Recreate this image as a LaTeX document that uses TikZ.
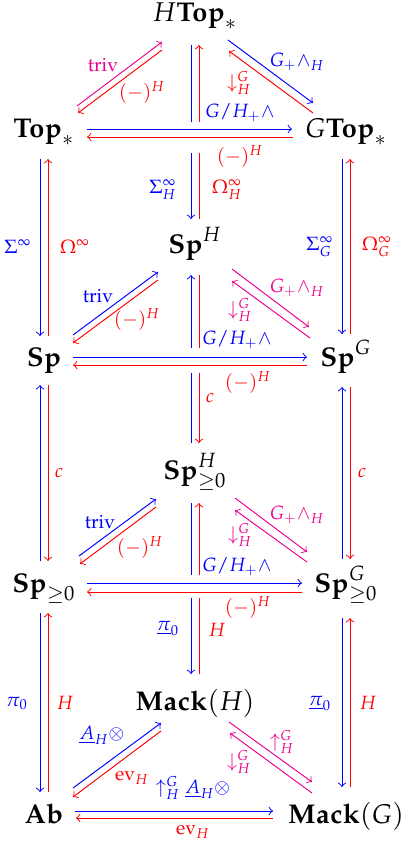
\documentclass[tikz,border=0pt]{standalone}
\usepackage{mathpazo}
\definecolor{pk}{RGB}{236,0,140}
\tikzset{
  obj/.style={anchor=base, inner sep=0pt, font=\fontsize{11.3}{13}\selectfont},
  lab/.style={inner sep=0pt, font=\fontsize{8}{9.5}\selectfont},
  ar/.style={->},
}
\begin{document}
\begin{tikzpicture}[x=0.41667pt,y=-0.41667pt]
\useasboundingbox (0,0) rectangle (409,844);
% objects
\node[obj] (HT) at (195,21) {$H\mathbf{Top}_*$};
\node[obj] (T) at (44,137) {$\mathbf{Top}_*$};
\node[obj] (GT) at (346,137) {$G\mathbf{Top}_*$};
\node[obj] (SH) at (195,253) {$\mathbf{Sp}^H$};
\node[obj] (S) at (44,366) {$\mathbf{Sp}$};
\node[obj] (SG) at (346,366) {$\mathbf{Sp}^G$};
\node[obj] (SHz) at (195,479) {$\mathbf{Sp}^H_{\geq 0}$};
\node[obj] (Sz) at (44,592) {$\mathbf{Sp}_{\geq 0}$};
\node[obj] (SGz) at (346,592) {$\mathbf{Sp}^G_{\geq 0}$};
\node[obj] (MH) at (195,710) {$\mathbf{Mack}(H)$};
\node[obj] (Ab) at (44,823) {$\mathbf{Ab}$};
\node[obj] (MG) at (346,823) {$\mathbf{Mack}(G)$};

% ---- top section
\draw[ar,pk] ([shift={(33,-31)}]T.base) -- ([shift={(-33,21)}]HT.base);
\draw[ar,red] ([shift={(-33,29)}]HT.base) -- ([shift={(34,-24)}]T.base);
\draw[ar,blue] ([shift={(33,19)}]HT.base) -- ([shift={(-33,-34)}]GT.base);
\draw[ar,red] ([shift={(-33,-24)}]GT.base) -- ([shift={(34,30)}]HT.base);
\draw[ar,blue] ([shift={(43,-8)}]T.base) -- ([shift={(-54,-8)}]GT.base);
\draw[ar,red] ([shift={(-53,0)}]GT.base) -- ([shift={(43,0)}]T.base);
% center vertical HT--SH
\draw[blue] ([shift={(-4,24)}]HT.base) -- ([shift={(-4,101)}]HT.base);
\draw[ar,blue] ([shift={(-4,-100)}]SH.base) -- ([shift={(-4,-34)}]SH.base);
\draw[red] ([shift={(4,-34)}]SH.base) -- ([shift={(4,-100)}]SH.base);
\draw[ar,red] ([shift={(4,101)}]HT.base) -- ([shift={(4,24)}]HT.base);
% left / right verticals
\draw[ar,blue] ([shift={(-4,22)}]T.base) -- ([shift={(-4,-30)}]S.base);
\draw[ar,red] ([shift={(4,-30)}]S.base) -- ([shift={(4,22)}]T.base);
\draw[ar,blue] ([shift={(-4,22)}]GT.base) -- ([shift={(-4,-32)}]SG.base);
\draw[ar,red] ([shift={(4,-32)}]SG.base) -- ([shift={(4,22)}]GT.base);

\node[lab,pk] (l1) at (103,65) {$\mathrm{triv}$};
\node[lab,red] (l2) at (142,93) {$(-)^H$};
\node[lab,blue] (l3) at (297,62) {$G_+\wedge_H$};
\node[lab,red] (l4) at (239,83) {$\downarrow^G_H$};
\node[lab,blue] (l5) at (240,113) {$G/H_+\wedge$};
\node[lab,red] (l6) at (240,157) {$(-)^H$};
\node[lab,blue] (l7) at (163,190) {$\Sigma^\infty_H$};
\node[lab,red] (l8) at (227,190) {$\Omega^\infty_H$};
\node[lab,blue] (l9) at (18,247) {$\Sigma^\infty$};
\node[lab,red] (l10) at (75,247) {$\Omega^\infty$};
\node[lab,blue] (l11) at (320,247) {$\Sigma^\infty_G$};
\node[lab,red] (l12) at (377,247) {$\Omega^\infty_G$};

% ---- Sp section
\draw[ar,blue] ([shift={(29,-31)}]S.base) -- ([shift={(-37,19)}]SH.base);
\draw[ar,red] ([shift={(-37,27)}]SH.base) -- ([shift={(29,-23)}]S.base);
\draw[ar,pk] ([shift={(37,16)}]SH.base) -- ([shift={(-37,-39)}]SG.base);
\draw[ar,pk] ([shift={(-36,-28)}]SG.base) -- ([shift={(37,28)}]SH.base);
\draw[ar,blue] ([shift={(29,-9)}]S.base) -- ([shift={(-39,-9)}]SG.base);
\draw[ar,red] ([shift={(-39,-1)}]SG.base) -- ([shift={(29,-1)}]S.base);
% center vertical SH--SHz
\draw[blue] ([shift={(-4,-36)}]SHz.base) -- ([shift={(-4,-106)}]SHz.base);
\draw[ar,blue] ([shift={(-4,95)}]SH.base) -- ([shift={(-4,22)}]SH.base);
\draw[red] ([shift={(4,22)}]SH.base) -- ([shift={(4,95)}]SH.base);
\draw[ar,red] ([shift={(4,-106)}]SHz.base) -- ([shift={(4,-36)}]SHz.base);
% left / right verticals
\draw[ar,blue] ([shift={(-4,-31)}]Sz.base) -- ([shift={(-4,19)}]S.base);
\draw[ar,red] ([shift={(4,19)}]S.base) -- ([shift={(4,-31)}]Sz.base);
\draw[ar,blue] ([shift={(-4,-33)}]SGz.base) -- ([shift={(-4,21)}]SG.base);
\draw[ar,red] ([shift={(4,21)}]SG.base) -- ([shift={(4,-33)}]SGz.base);

\node[lab,blue] (m1) at (98,296) {$\mathrm{triv}$};
\node[lab,red] (m2) at (137,320) {$(-)^H$};
\node[lab,pk] (m3) at (297,288) {$G_+\wedge_H$};
\node[lab,pk] (m4) at (240,310) {$\downarrow^G_H$};
\node[lab,blue] (m5) at (237,340) {$G/H_+\wedge$};
\node[lab,red] (m6) at (248,383) {$(-)^H$};
\node[lab,red] (m7) at (210,398) {$c$};
\node[lab,red] (m8) at (59,473) {$c$};
\node[lab,red] (m9) at (362,473) {$c$};

% ---- Sp>=0 section
\draw[ar,blue] ([shift={(35,-36)}]Sz.base) -- ([shift={(-39,20)}]SHz.base);
\draw[ar,red] ([shift={(-39,28)}]SHz.base) -- ([shift={(36,-28)}]Sz.base);
\draw[ar,pk] ([shift={(40,19)}]SHz.base) -- ([shift={(-39,-40)}]SGz.base);
\draw[ar,pk] ([shift={(-39,-30)}]SGz.base) -- ([shift={(40,31)}]SHz.base);
\draw[ar,blue] ([shift={(43,-9)}]Sz.base) -- ([shift={(-44,-9)}]SGz.base);
\draw[ar,red] ([shift={(-44,0)}]SGz.base) -- ([shift={(43,0)}]Sz.base);
% center vertical SHz--MH
\draw[blue] ([shift={(-4,24)}]SHz.base) -- ([shift={(-4,96)}]SHz.base);
\draw[ar,blue] ([shift={(-4,-112)}]MH.base) -- ([shift={(-4,-36)}]MH.base);
\draw[red] ([shift={(4,-36)}]MH.base) -- ([shift={(4,-112)}]MH.base);
\draw[ar,red] ([shift={(4,96)}]SHz.base) -- ([shift={(4,24)}]SHz.base);
% left / right verticals
\draw[ar,blue] ([shift={(-4,21)}]Sz.base) -- ([shift={(-4,-31)}]Ab.base);
\draw[ar,red] ([shift={(4,-31)}]Ab.base) -- ([shift={(4,21)}]Sz.base);
\draw[ar,blue] ([shift={(-4,26)}]SGz.base) -- ([shift={(-4,-36)}]MG.base);
\draw[ar,red] ([shift={(4,-36)}]MG.base) -- ([shift={(4,26)}]SGz.base);

\node[lab,blue] (n1) at (100,522) {$\mathrm{triv}$};
\node[lab,red] (n2) at (140,548) {$(-)^H$};
\node[lab,pk] (n3) at (297,515) {$G_+\wedge_H$};
\node[lab,pk] (n4) at (240,535) {$\downarrow^G_H$};
\node[lab,blue] (n5) at (237,567) {$G/H_+\wedge$};
\node[lab,red] (n6) at (248,608) {$(-)^H$};
\node[lab,blue] (n7) at (168,628) {$\underline{\pi}_0$};
\node[lab,red] (n8) at (217,630) {$H$};
\node[lab,blue] (n9) at (17,703) {$\pi_0$};
\node[lab,red] (n10) at (65,703) {$H$};
\node[lab,blue] (n11) at (320,703) {$\underline{\pi}_0$};
\node[lab,red] (n12) at (368,703) {$H$};

% ---- bottom section
\draw[ar,blue] ([shift={(29,-35)}]Ab.base) -- ([shift={(-34,13)}]MH.base);
\draw[ar,red] ([shift={(-34,21)}]MH.base) -- ([shift={(29,-26)}]Ab.base);
\draw[ar,pk] ([shift={(34,12)}]MH.base) -- ([shift={(-34,-41)}]MG.base);
\draw[ar,pk] ([shift={(-34,-30)}]MG.base) -- ([shift={(35,23)}]MH.base);
\draw[ar,blue] ([shift={(31,-12)}]Ab.base) -- ([shift={(-73,-12)}]MG.base);
\draw[ar,red] ([shift={(-73,-5)}]MG.base) -- ([shift={(32,-5)}]Ab.base);

\node[lab,blue] (b1) at (102,735) {$\underline{A}_H\otimes$};
\node[lab,red] (b2) at (132,778) {$\mathrm{ev}_H$};
\node[lab,pk] (b3) at (282,742) {$\uparrow^G_H$};
\node[lab,pk] (b4) at (239,762) {$\downarrow^G_H$};
\node[lab,blue] (b5) at (193,788) {$\uparrow^G_H\underline{A}_H\otimes$};
\node[lab,red] (b6) at (193,832) {$\mathrm{ev}_H$};
\end{tikzpicture}
\end{document}
